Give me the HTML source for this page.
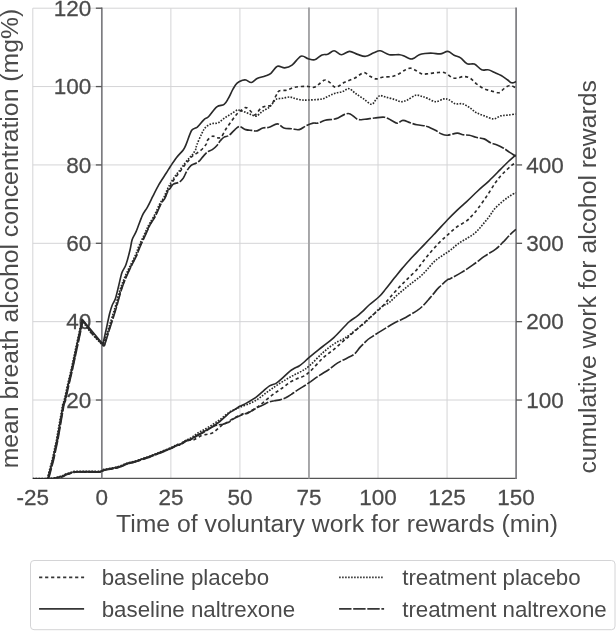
<!DOCTYPE html>
<html><head><meta charset="utf-8"><title>chart</title>
<style>
html,body{margin:0;padding:0;background:#fff}
svg{display:block;will-change:transform}
text{font-family:"Liberation Sans",Arial,Helvetica,sans-serif;fill:#4a4a4a}
.tk{font-size:22.5px;stroke:#4a4a4a;stroke-width:0.25px}
.lb{font-size:24.75px}
.lg{font-size:22.3px}
</style></head><body>
<svg width="616" height="631" viewBox="0 0 616 631">
<rect width="616" height="631" fill="#fff"/>

<g stroke="#d4d4d6" stroke-width="1" fill="none">
<line x1="170.89" y1="8.2" x2="170.89" y2="478.4"/>
<line x1="239.93" y1="8.2" x2="239.93" y2="478.4"/>
<line x1="378.01" y1="8.2" x2="378.01" y2="478.4"/>
<line x1="447.06" y1="8.2" x2="447.06" y2="478.4"/>
<line x1="32.8" y1="400.03" x2="516.1" y2="400.03"/>
<line x1="32.8" y1="321.67" x2="516.1" y2="321.67"/>
<line x1="32.8" y1="243.30" x2="516.1" y2="243.30"/>
<line x1="32.8" y1="164.93" x2="516.1" y2="164.93"/>
<line x1="32.8" y1="86.57" x2="516.1" y2="86.57"/>
<line x1="32.8" y1="8.2" x2="32.8" y2="478.4"/>
<line x1="32.8" y1="8.2" x2="516.1" y2="8.2"/>
</g>
<line x1="32.8" y1="478.4" x2="516.9" y2="478.4" stroke="#555" stroke-width="1.4"/>
<g stroke="#7c7c80" stroke-width="1.7" fill="none">
<line x1="516.1" y1="7.6" x2="516.1" y2="479.09999999999997"/>
<line x1="101.84" y1="7.6" x2="101.84" y2="478.4"/>
<line x1="308.97" y1="7.6" x2="308.97" y2="478.4" stroke="#a4a4a6" stroke-width="1.9"/>
</g>
<g stroke="#555" stroke-width="1.3" fill="none">
<line x1="95.84" y1="400.03" x2="101.84" y2="400.03"/>
<line x1="95.84" y1="321.67" x2="101.84" y2="321.67"/>
<line x1="95.84" y1="243.30" x2="101.84" y2="243.30"/>
<line x1="95.84" y1="164.93" x2="101.84" y2="164.93"/>
<line x1="95.84" y1="86.57" x2="101.84" y2="86.57"/>
<line x1="95.84" y1="8.20" x2="101.84" y2="8.20"/>
<line x1="516.1" y1="400.03" x2="522.1" y2="400.03"/>
<line x1="516.1" y1="321.67" x2="522.1" y2="321.67"/>
<line x1="516.1" y1="243.30" x2="522.1" y2="243.30"/>
<line x1="516.1" y1="164.93" x2="522.1" y2="164.93"/>
</g>
<text class="tk" transform="translate(91.34,407.73) scale(1,1.02)" text-anchor="end">20</text>
<text class="tk" transform="translate(91.34,329.37) scale(1,1.02)" text-anchor="end">40</text>
<text class="tk" transform="translate(91.34,251.00) scale(1,1.02)" text-anchor="end">60</text>
<text class="tk" transform="translate(91.34,172.63) scale(1,1.02)" text-anchor="end">80</text>
<text class="tk" transform="translate(91.34,94.27) scale(1,1.02)" text-anchor="end">100</text>
<text class="tk" transform="translate(91.34,15.90) scale(1,1.02)" text-anchor="end">120</text>
<text class="tk" transform="translate(526.30,407.83) scale(1,1.02)" text-anchor="start">100</text>
<text class="tk" transform="translate(526.30,329.47) scale(1,1.02)" text-anchor="start">200</text>
<text class="tk" transform="translate(526.30,251.10) scale(1,1.02)" text-anchor="start">300</text>
<text class="tk" transform="translate(526.30,172.73) scale(1,1.02)" text-anchor="start">400</text>
<text class="tk" transform="translate(32.80,504.70) scale(1,1.02)" text-anchor="middle">-25</text>
<text class="tk" transform="translate(101.84,504.70) scale(1,1.02)" text-anchor="middle">0</text>
<text class="tk" transform="translate(170.89,504.70) scale(1,1.02)" text-anchor="middle">25</text>
<text class="tk" transform="translate(239.93,504.70) scale(1,1.02)" text-anchor="middle">50</text>
<text class="tk" transform="translate(308.97,504.70) scale(1,1.02)" text-anchor="middle">75</text>
<text class="tk" transform="translate(378.01,504.70) scale(1,1.02)" text-anchor="middle">100</text>
<text class="tk" transform="translate(447.06,504.70) scale(1,1.02)" text-anchor="middle">125</text>
<text class="tk" transform="translate(516.10,504.70) scale(1,1.02)" text-anchor="middle">150</text>
<text class="lb" x="337.0" y="531.8" text-anchor="middle">Time of voluntary work for rewards (min)</text>
<text class="lb" transform="translate(18.2,238.6) rotate(-90)" text-anchor="middle">mean breath alcohol concentration (mg%)</text>
<text class="lb" transform="translate(595.8,276.9) rotate(-90)" text-anchor="middle">cumulative work for alcohol rewards</text>
<clipPath id="ax"><rect x="32.8" y="8.2" width="483.30" height="470.20"/></clipPath>
<g stroke="#2a2a2a" stroke-width="1.65" fill="none" stroke-linejoin="round" clip-path="url(#ax)">
<path d="M32.6,478.9L47.7,478.9L52.7,460.0L57.0,440.0L63.3,404.1L64.6,401.0L68.1,384.8L71.6,370.0L82.3,319.4L92.3,331.6L102.9,344.2C103.5,341.5 105.4,333.0 106.5,327.9C107.6,322.8 108.8,317.1 109.7,313.3C110.7,309.5 111.2,307.6 112.2,305.2C113.2,302.8 114.3,301.9 115.4,298.7C116.5,295.4 117.6,290.0 118.7,285.7C119.8,281.4 120.7,276.2 121.9,272.7C123.1,269.2 124.7,268.4 126.0,264.6C127.3,260.8 129.0,254.2 130.0,250.0C131.0,245.8 131.2,242.6 132.2,239.5C133.2,236.4 134.5,235.4 136.2,231.4C137.9,227.4 140.5,219.6 142.3,215.6C144.2,211.6 145.5,210.6 147.3,207.4C149.1,204.2 151.0,200.0 152.9,196.2C154.8,192.4 156.8,188.3 159.0,184.4C161.2,180.5 164.4,176.0 166.3,173.0C168.2,170.0 168.8,168.9 170.5,166.3C172.2,163.7 174.4,160.3 176.6,157.5C178.8,154.7 181.8,152.0 183.4,149.7C185.0,147.4 184.9,147.1 186.3,143.9C187.7,140.7 189.9,133.1 191.7,130.3C193.5,127.5 195.3,128.8 197.3,127.1C199.3,125.3 201.9,121.6 203.8,119.8C205.7,118.0 206.5,118.7 208.7,116.5C210.9,114.3 214.2,108.8 216.8,106.8C219.4,104.8 222.2,105.8 224.1,104.4C226.0,103.1 226.7,101.3 228.2,98.7C229.7,96.1 231.6,91.5 233.1,88.9C234.6,86.3 235.5,84.6 237.1,83.2C238.7,81.8 241.0,80.8 242.5,80.3C244.0,79.8 244.5,79.6 246.0,80.0C247.5,80.4 249.6,82.7 251.4,82.5C253.2,82.3 254.8,79.7 257.1,78.6C259.4,77.5 262.9,76.9 265.2,76.0C267.5,75.1 268.9,74.9 270.9,73.3C272.9,71.7 275.1,67.2 277.4,66.3C279.7,65.4 282.3,68.1 284.7,67.9C287.1,67.7 289.3,67.2 292.0,65.2C294.7,63.2 298.2,57.3 300.9,56.2C303.6,55.1 305.9,58.1 308.2,58.7C310.5,59.3 312.4,60.4 314.7,59.8C317.0,59.2 319.8,55.8 322.0,54.9C324.2,54.0 325.7,55.0 327.7,54.3C329.7,53.6 331.8,50.7 334.1,50.8C336.4,50.9 338.8,54.6 341.4,54.7C344.0,54.8 346.8,51.5 349.5,51.4C352.2,51.3 354.9,53.6 357.6,54.4C360.3,55.2 363.0,56.6 365.7,56.3C368.4,56.0 371.4,53.6 373.8,52.7C376.2,51.8 377.7,50.5 380.3,50.8C382.9,51.1 386.1,54.1 389.3,54.7C392.6,55.4 397.2,54.4 399.8,54.7C402.4,55.0 402.9,55.6 404.7,56.3C406.5,57.0 408.8,58.6 410.4,58.9C412.0,59.2 412.9,58.6 414.4,57.9C415.9,57.2 417.6,55.4 419.3,54.7C421.1,54.0 422.6,53.8 424.9,53.5C427.2,53.2 430.4,53.1 433.0,53.2C435.6,53.3 437.8,54.2 440.3,53.9C442.8,53.6 445.6,51.2 447.9,51.4C450.2,51.6 452.0,54.1 454.1,55.2C456.2,56.3 458.4,56.5 460.6,57.9C462.8,59.3 464.8,62.8 467.1,63.8C469.4,64.8 472.0,63.1 474.4,64.1C476.8,65.1 479.4,68.8 481.7,69.8C484.0,70.8 486.0,69.3 488.2,69.8C490.4,70.2 492.5,71.5 494.7,72.5C496.9,73.5 499.0,74.2 501.2,75.5C503.4,76.8 505.9,78.8 507.7,80.0C509.4,81.2 510.3,82.5 511.7,82.8C513.1,83.1 515.4,81.8 516.1,81.6" />
<path d="M33.0,479.0L48.1,479.0L53.1,460.1L57.4,440.1L63.7,404.2L65.0,401.1L68.5,384.9L72.0,370.1L82.7,320.3L91.8,333.3L104.0,345.9C104.8,343.5 107.1,335.9 108.5,331.3C109.9,326.7 111.2,322.7 112.6,318.3C114.0,314.0 115.3,309.9 116.6,305.3C118.0,300.8 119.3,295.1 120.7,290.8C122.1,286.4 123.3,283.1 124.8,279.3C126.4,275.6 128.1,272.0 130.0,268.0C131.9,264.1 134.6,259.1 136.2,255.5C137.8,251.9 138.2,250.0 139.7,246.5C141.2,242.9 143.8,237.5 145.5,234.0C147.2,230.4 148.0,228.2 149.6,225.1C151.2,222.0 153.4,219.0 155.3,215.3C157.2,211.7 159.5,205.9 161.0,203.2C162.5,200.4 163.3,200.5 164.3,198.6C165.3,196.7 166.2,193.8 167.2,191.8C168.2,189.7 169.0,188.4 170.1,186.3C171.2,184.3 172.4,181.9 174.0,179.5C175.6,177.0 177.9,174.3 179.9,171.8C181.9,169.2 183.9,166.2 185.7,164.0C187.5,161.7 189.3,159.5 190.6,158.1C191.9,156.6 192.4,156.0 193.5,155.2C194.6,154.3 195.9,153.9 197.4,152.8C198.9,151.8 200.8,150.4 202.3,149.0C203.8,147.5 205.3,145.5 206.2,144.1C207.1,142.6 206.5,141.6 207.5,140.2C208.5,138.9 210.8,136.6 212.4,136.2C214.0,135.7 215.7,137.6 217.2,137.8C218.7,137.9 219.8,138.4 221.3,137.0C222.8,135.5 224.3,131.6 226.1,128.8C227.8,126.1 230.0,123.2 231.8,120.8C233.6,118.3 235.1,116.0 236.7,114.2C238.3,112.5 239.7,111.4 241.3,110.2C242.9,109.1 244.5,107.3 246.1,107.6C247.7,107.8 249.5,110.3 251.0,111.6C252.5,112.8 253.5,115.4 255.1,114.9C256.7,114.3 258.9,109.9 260.8,108.4C262.7,106.9 264.6,106.4 266.4,105.9C268.1,105.3 269.7,106.8 271.3,105.1C272.9,103.3 274.8,97.7 276.2,95.4C277.6,93.0 277.6,91.6 279.4,90.8C281.1,89.9 284.4,90.7 286.7,90.2C289.0,89.6 290.8,88.2 293.2,87.6C295.6,86.9 298.7,86.6 301.3,86.5C303.9,86.3 306.4,86.3 308.6,86.5C310.8,86.6 312.5,87.7 314.3,87.2C316.1,86.8 317.4,85.2 319.2,84.0C321.0,82.7 323.1,80.2 324.9,80.0C326.6,79.7 328.2,81.3 329.7,82.4C331.2,83.4 332.5,85.7 333.8,86.5C335.1,87.2 335.8,87.4 337.7,86.7C339.6,85.9 342.1,83.5 345.0,82.1C347.9,80.6 351.7,79.6 354.8,78.1C357.9,76.5 361.3,73.0 363.7,72.7C366.1,72.3 367.4,74.9 369.4,76.0C371.4,77.0 373.8,78.6 375.9,78.9C378.0,79.1 379.6,77.7 382.3,77.2C385.0,76.8 389.4,77.0 392.1,76.5C394.8,75.9 396.4,75.0 398.6,74.0C400.8,72.9 403.1,70.9 405.1,70.0C407.1,69.0 408.9,68.1 410.8,68.2C412.7,68.4 414.5,69.8 416.4,70.8C418.3,71.7 420.1,73.5 422.1,74.0C424.1,74.4 426.1,73.9 428.5,73.7C430.9,73.4 433.9,72.8 436.6,72.7C439.3,72.5 442.2,71.8 444.8,72.7C447.4,73.5 449.9,76.7 452.1,77.6C454.2,78.5 455.8,78.2 457.7,78.1C459.6,77.9 461.4,76.5 463.4,76.5C465.4,76.5 467.7,76.8 469.9,78.1C472.1,79.3 474.1,82.0 476.4,83.8C478.7,85.5 481.1,87.3 483.7,88.6C486.3,89.8 489.2,90.4 491.8,91.1C494.4,91.7 497.1,93.1 499.1,92.7C501.1,92.2 502.4,89.7 504.0,88.6C505.6,87.4 507.4,86.1 508.9,85.7C510.4,85.2 511.6,85.7 512.9,86.2C514.2,86.6 515.9,88.2 516.5,88.6" stroke-dasharray="3.2 2.8"/>
<path d="M32.1,478.8L47.2,478.8L52.2,459.9L56.5,439.9L62.8,404.0L64.1,400.9L67.6,384.7L71.1,369.9L81.8,320.1L91.0,333.1L103.1,345.7C103.9,343.3 106.2,335.7 107.6,331.1C109.1,326.5 110.4,322.4 111.8,318.1C113.1,313.8 114.4,309.7 115.8,305.1C117.1,300.5 118.5,294.8 119.8,290.5C121.2,286.2 122.4,282.9 124.0,279.1C125.5,275.3 127.2,271.8 129.2,267.8C131.1,263.8 133.7,258.8 135.4,255.2C137.0,251.6 137.3,249.8 138.9,246.2C140.4,242.6 143.0,237.3 144.7,233.7C146.3,230.1 147.1,227.9 148.8,224.8C150.4,221.7 152.6,218.8 154.5,215.1C156.4,211.4 158.7,205.7 160.2,202.9C161.7,200.1 162.4,200.2 163.5,198.3C164.5,196.4 165.4,193.6 166.4,191.5C167.3,189.4 168.1,187.8 169.2,185.7C170.4,183.6 171.5,181.2 173.2,178.8C174.8,176.4 177.1,173.7 179.1,171.1C181.0,168.5 183.1,165.6 184.9,163.3C186.6,161.0 188.4,158.9 189.8,157.4C191.1,155.9 191.7,155.5 192.7,154.2C193.6,152.9 194.9,151.2 195.6,149.6C196.2,148.0 195.8,147.5 196.9,144.8C197.9,142.1 200.2,136.5 201.8,133.5C203.2,130.5 204.2,128.6 205.9,127.0C207.5,125.4 209.5,124.4 211.6,123.7C213.6,123.0 215.8,123.9 218.0,122.9C220.1,122.0 222.3,119.5 224.5,118.0C226.6,116.5 228.8,115.3 231.0,114.0C233.1,112.7 236.0,110.5 237.5,109.9C238.9,109.3 238.4,110.1 239.7,110.5C240.9,110.9 243.2,111.4 245.2,112.1C247.3,112.8 249.8,114.3 251.8,114.9C253.7,115.5 254.9,116.5 256.7,115.9C258.4,115.3 260.5,112.6 262.4,111.3C264.2,110.0 266.4,109.3 268.1,108.1C269.7,106.9 270.7,105.5 272.1,104.0C273.4,102.5 274.4,100.2 276.2,99.2C277.9,98.2 280.4,98.7 282.7,98.3C285.0,97.9 287.8,96.9 289.9,97.0C292.1,97.1 293.6,98.2 295.7,98.7C297.7,99.2 300.0,99.8 302.2,100.0C304.3,100.2 306.2,100.1 308.7,100.0C311.1,99.9 314.3,99.8 316.8,99.6C319.2,99.4 321.2,99.3 323.2,98.7C325.3,98.1 326.9,96.8 328.9,95.9C330.9,95.0 333.0,93.9 335.2,93.2C337.5,92.5 340.2,92.4 342.6,91.6C344.9,90.9 346.9,88.4 349.1,88.7C351.2,89.0 353.1,91.8 355.6,93.5C358.0,95.2 361.0,97.1 363.7,98.9C366.3,100.7 369.4,104.2 371.4,104.3C373.5,104.4 374.5,101.2 375.9,99.7C377.2,98.2 378.1,96.0 379.9,95.6C381.6,95.2 383.9,96.7 386.4,97.3C388.8,97.9 392.0,98.7 394.4,99.4C396.9,100.1 398.8,101.6 400.9,101.7C403.1,101.8 405.0,101.1 407.4,100.0C409.9,98.9 413.1,95.8 415.6,95.2C418.0,94.6 420.0,96.0 422.1,96.5C424.1,97.0 425.4,97.5 427.7,98.4C429.9,99.3 433.0,101.6 435.8,101.7C438.5,101.8 441.8,99.2 443.9,98.9C446.1,98.6 446.9,98.9 448.8,99.7C450.6,100.5 452.9,103.1 455.2,103.8C457.6,104.5 460.1,103.1 462.6,103.8C465.0,104.5 467.6,106.3 469.9,107.8C472.2,109.3 473.9,111.4 476.4,112.7C478.8,114.0 481.6,114.9 484.4,115.9C487.3,116.9 490.7,118.9 493.4,118.9C496.2,118.9 498.3,116.5 500.8,115.9C503.2,115.3 505.6,115.4 508.1,115.1C510.5,114.8 514.4,114.2 515.6,114.0" stroke-dasharray="1.6 1.4"/>
<path d="M33.4,479.2L48.5,479.2L53.5,460.3L57.8,440.3L64.0,404.4L65.3,401.3L68.8,385.1L72.3,370.3L83.0,320.5L92.2,333.5L104.3,346.1C105.1,343.7 107.4,336.1 108.8,331.5C110.3,326.9 111.6,322.8 113.0,318.5C114.3,314.2 115.6,310.1 117.0,305.5C118.3,300.9 119.7,295.2 121.0,290.9C122.4,286.6 123.6,283.3 125.2,279.5C126.7,275.7 128.4,272.2 130.3,268.2C132.2,264.2 134.9,259.2 136.6,255.6C138.2,252.0 138.5,250.2 140.1,246.6C141.6,243.0 144.2,237.7 145.8,234.1C147.5,230.5 148.3,228.3 149.9,225.2C151.6,222.1 153.8,219.2 155.7,215.5C157.6,211.8 159.8,206.1 161.3,203.3C162.8,200.5 163.6,200.6 164.7,198.7C165.7,196.8 166.6,193.7 167.6,191.9C168.5,190.1 169.5,189.3 170.4,188.0C171.4,186.7 172.0,185.1 173.4,184.1C174.9,183.1 177.6,183.2 179.2,182.2C180.9,181.2 181.8,180.2 183.2,178.3C184.5,176.4 185.8,172.6 187.1,170.5C188.4,168.4 189.5,166.8 190.9,165.6C192.4,164.4 194.4,164.0 195.8,163.2C197.3,162.4 198.4,161.9 199.7,160.7C200.9,159.5 202.2,157.4 203.6,155.9C204.9,154.4 206.0,153.1 207.4,152.0C208.9,150.9 210.7,150.7 212.3,149.6C214.0,148.5 215.9,146.7 217.2,145.2C218.6,143.7 219.1,142.2 220.2,140.8C221.4,139.5 222.6,138.0 224.1,137.1C225.5,136.2 227.2,136.7 228.9,135.5C230.7,134.3 232.9,131.3 234.7,129.8C236.4,128.3 237.6,126.6 239.4,126.6C241.3,126.6 243.7,129.0 245.7,129.6C247.6,130.2 249.4,130.2 251.3,130.4C253.2,130.6 255.2,131.3 257.1,130.9C258.9,130.5 260.7,128.6 262.8,128.0C264.8,127.4 266.8,127.9 269.2,127.2C271.7,126.5 274.9,123.8 277.4,123.9C279.8,124.0 281.4,127.2 283.9,128.0C286.3,128.8 289.4,128.5 291.9,128.8C294.5,129.1 296.8,130.2 299.2,129.6C301.7,129.1 304.2,126.6 306.6,125.5C308.9,124.4 311.2,123.5 313.1,123.1C314.9,122.7 315.9,123.6 317.9,123.1C320.0,122.6 322.8,120.8 325.2,120.2C327.7,119.6 330.4,119.8 332.6,119.4C334.7,119.0 336.1,118.8 338.1,118.0C340.1,117.2 342.5,115.1 344.6,114.4C346.6,113.7 348.1,113.1 350.2,113.9C352.4,114.7 355.1,118.4 357.6,119.3C360.0,120.2 362.0,119.5 364.9,119.3C367.7,119.1 371.3,118.3 374.6,118.0C377.8,117.7 381.5,116.8 384.4,117.2C387.2,117.6 389.5,119.4 391.6,120.4C393.8,121.4 395.5,123.2 397.4,123.2C399.2,123.2 400.8,120.5 402.9,120.4C405.1,120.3 407.9,122.1 410.2,122.8C412.6,123.5 414.3,124.3 416.8,124.8C419.2,125.3 423.2,125.5 424.9,125.8C426.7,126.1 425.5,125.8 427.2,126.6C429.0,127.3 432.9,129.1 435.4,130.3C437.8,131.6 439.8,133.3 441.9,134.1C443.9,134.9 445.0,135.4 447.6,135.2C450.1,135.0 454.7,133.2 457.2,133.1C459.8,133.0 460.9,134.4 462.9,134.7C465.0,135.1 467.3,134.8 469.4,135.2C471.6,135.6 473.5,136.7 475.9,137.3C478.4,137.9 481.6,138.0 484.1,138.9C486.5,139.8 488.4,141.8 490.6,142.8C492.7,143.8 494.9,144.0 497.1,144.9C499.2,145.8 501.4,146.9 503.6,148.2C505.7,149.5 507.9,151.2 510.1,152.6C512.2,154.0 515.5,156.1 516.5,156.8" stroke-dasharray="12.4 1.7"/>
<path d="M32.6,479.0L47.9,478.9C49.0,478.8 52.6,478.5 54.5,478.2C56.4,477.9 57.8,477.4 59.2,477.0C60.6,476.6 61.9,476.4 63.0,476.0C64.1,475.6 64.7,474.8 65.7,474.4C66.7,474.0 67.5,473.8 69.0,473.4C70.5,473.0 71.5,472.1 74.8,471.8C78.0,471.5 84.3,471.6 88.5,471.6C92.7,471.6 97.6,471.9 100.2,471.6C102.8,471.3 102.1,470.3 104.1,469.8C106.0,469.3 109.3,469.0 111.9,468.4C114.5,467.9 117.1,467.3 119.7,466.5C122.3,465.7 124.9,464.2 127.5,463.4C130.1,462.6 132.7,462.2 135.3,461.4C137.9,460.6 140.8,459.5 143.1,458.7C145.4,458.0 146.4,457.8 148.9,456.9C151.4,456.0 154.3,454.7 157.9,453.3C161.5,451.9 167.1,449.7 170.4,448.3C173.7,446.9 175.9,445.4 177.5,444.7C179.1,444.1 178.6,445.1 180.0,444.4C181.4,443.8 183.8,441.8 185.7,440.8C187.6,439.9 189.5,439.6 191.4,438.7C193.3,437.8 195.1,436.4 197.0,435.3C198.9,434.2 200.8,433.3 202.7,432.2C204.6,431.1 206.5,430.0 208.4,428.9C210.3,427.8 212.2,426.6 214.1,425.4C216.0,424.2 217.9,423.0 219.8,421.5C221.7,420.0 223.8,417.9 225.5,416.4C227.2,414.9 228.3,413.6 230.0,412.4C231.7,411.2 234.0,410.1 235.7,409.0C237.4,407.9 238.3,407.1 240.2,406.1C242.0,405.1 244.2,404.4 246.8,402.9C249.4,401.4 253.2,399.2 255.9,397.3C258.6,395.4 260.4,393.5 262.7,391.6C265.0,389.7 267.2,387.3 269.5,385.9C271.8,384.5 274.1,384.5 276.4,383.1C278.7,381.7 280.9,379.4 283.2,377.4C285.5,375.4 288.1,372.6 290.0,371.1C291.9,369.6 293.0,369.2 294.5,368.3C296.0,367.4 297.4,367.1 299.1,366.0C300.8,364.9 303.1,363.0 304.8,361.5C306.5,360.0 306.5,359.6 309.5,357.1C312.5,354.6 318.6,349.8 322.7,346.5C326.8,343.2 329.7,341.5 334.1,337.4C338.5,333.3 345.1,325.5 348.9,322.0C352.7,318.5 354.6,318.1 356.8,316.4C359.0,314.7 359.9,313.8 362.0,311.9C364.1,310.0 366.2,307.6 369.1,305.0C372.0,302.4 376.5,299.2 379.3,296.5C382.1,293.8 383.6,291.5 386.1,288.5C388.6,285.5 391.5,281.6 394.1,278.3C396.8,275.0 399.5,271.5 402.0,268.6C404.5,265.7 405.9,264.0 408.9,260.7C411.9,257.4 415.9,253.3 420.0,249.0C424.1,244.7 429.1,239.6 433.6,234.8C438.2,230.0 443.3,224.2 447.3,220.0C451.3,215.8 454.3,212.8 457.5,209.8C460.7,206.8 463.0,204.9 466.4,201.8C469.8,198.7 473.9,194.5 477.7,191.0C481.5,187.5 485.3,184.4 489.1,180.8C492.9,177.2 497.3,172.6 500.5,169.4C503.7,166.2 505.8,163.9 508.4,161.5C510.9,159.1 514.6,156.0 515.8,154.9" />
<path d="M32.7,479.3L48.0,479.2C49.1,479.1 52.7,478.9 54.6,478.6C56.5,478.2 57.9,477.7 59.3,477.3C60.7,477.0 62.0,476.8 63.1,476.3C64.2,475.9 64.8,475.2 65.8,474.8C66.8,474.3 67.6,474.2 69.1,473.8C70.6,473.3 71.6,472.4 74.9,472.1C78.1,471.8 84.4,472.0 88.6,471.9C92.8,471.9 97.7,472.2 100.3,471.9C102.9,471.6 102.2,470.7 104.2,470.1C106.1,469.6 109.4,469.3 112.0,468.8C114.6,468.2 117.2,467.7 119.8,466.8C122.4,466.0 125.0,464.6 127.6,463.8C130.2,462.9 132.8,462.5 135.4,461.8C138.0,461.0 140.9,459.8 143.2,459.1C145.5,458.3 146.5,458.1 149.0,457.2C151.5,456.4 154.4,455.1 158.0,453.6C161.6,452.2 167.2,450.1 170.5,448.6C173.8,447.2 176.0,445.7 177.6,445.1C179.2,444.4 178.7,445.4 180.1,444.8C181.5,444.1 183.9,442.0 185.8,441.1C187.7,440.3 190.0,440.2 191.5,439.8C193.0,439.5 193.2,440.0 194.9,439.2C196.6,438.5 199.6,436.3 201.7,435.4C203.8,434.6 205.5,434.8 207.4,434.3C209.3,433.9 211.2,433.7 213.1,432.6C215.0,431.6 217.2,429.3 218.7,428.1C220.2,426.8 220.6,426.3 222.1,425.2C223.6,424.2 225.9,423.0 227.8,421.8C229.7,420.7 231.6,419.5 233.5,418.4C235.4,417.4 237.5,416.4 239.2,415.6C240.9,414.8 242.4,414.1 243.7,413.6C245.0,413.2 245.8,413.6 247.1,413.1C248.4,412.6 249.8,411.6 251.5,410.6C253.2,409.7 255.2,408.6 257.1,407.2C259.0,405.9 260.7,404.4 262.8,402.8C264.9,401.1 267.3,398.9 269.6,397.1C271.9,395.2 274.2,393.6 276.5,391.9C278.8,390.3 281.0,389.0 283.3,387.3C285.6,385.7 287.8,383.7 290.1,382.2C292.4,380.8 294.6,379.9 296.9,378.8C299.2,377.8 301.5,377.3 303.7,376.1C305.9,374.8 306.9,374.4 310.1,371.4C313.3,368.5 318.8,361.9 322.8,358.1C326.8,354.4 330.8,351.9 334.2,349.1C337.6,346.2 340.8,343.3 343.3,341.1C345.8,339.0 346.2,338.8 349.0,336.3C351.8,333.9 357.1,329.0 360.1,326.3C363.1,323.7 365.0,322.0 366.9,320.3C368.8,318.6 369.0,318.4 371.5,316.1C374.0,313.9 378.7,310.1 381.7,307.1C384.7,304.0 386.8,301.2 389.6,297.9C392.4,294.7 395.7,291.0 398.7,287.8C401.7,284.5 404.8,281.7 407.8,278.6C410.8,275.6 414.6,272.1 416.9,269.6C419.2,267.0 419.6,266.1 421.6,263.4C423.7,260.8 426.4,257.1 429.2,253.8C432.0,250.5 435.3,246.8 438.3,243.6C441.3,240.5 444.4,237.9 447.4,235.1C450.4,232.4 453.3,229.5 456.5,227.1C459.7,224.8 464.0,222.9 466.6,220.9C469.2,219.0 470.4,217.4 472.4,215.2C474.4,213.1 476.1,211.1 478.5,207.8C480.9,204.6 484.2,200.0 486.9,195.9C489.6,191.9 492.6,186.8 494.9,183.4C497.2,180.1 498.7,178.2 500.6,176.0C502.5,173.9 504.3,172.1 506.2,170.3C508.1,168.6 510.3,166.5 511.9,165.2C513.5,164.0 515.2,163.1 515.9,162.6" stroke-dasharray="3.2 2.8"/>
<path d="M32.5,478.6L47.8,478.6C48.9,478.4 52.5,478.2 54.4,477.9C56.3,477.5 57.7,477.0 59.1,476.6C60.5,476.3 61.8,476.1 62.9,475.6C64.0,475.2 64.6,474.5 65.6,474.1C66.6,473.6 67.4,473.5 68.9,473.1C70.4,472.6 71.5,471.8 74.7,471.4C78.0,471.1 84.2,471.3 88.4,471.2C92.6,471.2 97.5,471.6 100.1,471.2C102.7,470.9 102.0,470.0 104.0,469.4C106.0,468.9 109.2,468.6 111.8,468.1C114.4,467.5 117.0,467.0 119.6,466.1C122.2,465.3 124.8,463.9 127.4,463.1C130.0,462.2 132.6,461.8 135.2,461.1C137.8,460.3 140.7,459.1 143.0,458.4C145.3,457.6 146.3,457.5 148.8,456.6C151.3,455.6 154.2,454.4 157.8,452.9C161.4,451.5 167.0,449.4 170.3,447.9C173.6,446.5 175.8,445.0 177.4,444.4C179.0,443.7 178.5,444.7 179.9,444.1C181.3,443.4 183.7,441.5 185.6,440.4C187.5,439.4 189.4,438.9 191.3,437.8C193.2,436.6 195.0,434.8 196.9,433.6C198.8,432.3 200.7,431.5 202.6,430.4C204.5,429.4 206.4,428.3 208.3,427.1C210.2,426.0 212.1,424.9 214.0,423.6C215.9,422.4 217.8,421.1 219.7,419.8C221.6,418.4 223.7,416.6 225.4,415.2C227.1,413.9 228.2,412.8 229.9,411.8C231.6,410.7 233.9,409.7 235.6,408.9C237.3,408.2 237.7,408.0 239.9,407.1C242.1,406.3 246.2,405.0 249.0,403.8C251.8,402.5 254.4,401.3 256.9,399.8C259.4,398.2 261.5,396.3 263.8,394.6C266.1,392.9 268.3,391.2 270.6,389.6C272.9,387.9 274.9,386.6 277.4,384.9C279.9,383.3 282.8,381.5 285.4,379.9C288.0,378.2 290.6,376.8 293.3,375.4C295.9,373.9 298.6,372.9 301.3,371.4C304.0,369.8 305.8,369.0 309.4,365.9C312.9,362.9 318.5,356.6 322.6,352.9C326.7,349.3 330.6,346.2 334.0,343.9C337.4,341.5 340.6,340.5 343.1,339.1C345.6,337.6 346.5,337.0 348.8,335.4C351.1,333.7 354.2,331.0 356.7,329.1C359.1,327.1 361.1,326.0 363.5,323.9C365.9,321.9 367.9,319.6 370.9,316.8C373.9,313.9 378.4,309.3 381.5,306.9C384.6,304.6 386.8,304.4 389.4,302.4C392.0,300.4 394.7,297.3 397.4,294.9C400.1,292.6 402.8,290.3 405.4,288.1C408.0,286.0 410.6,284.0 413.3,281.9C415.9,279.9 418.9,277.8 421.3,275.6C423.6,273.5 425.2,271.7 427.4,269.2C429.6,266.8 432.2,263.4 434.7,261.1C437.2,258.8 440.0,257.3 442.6,255.4C445.2,253.6 447.7,252.2 450.4,250.2C453.1,248.1 455.8,245.4 458.7,243.3C461.6,241.3 465.0,239.7 467.9,237.8C470.8,236.0 473.4,234.5 475.9,232.2C478.4,230.0 480.4,227.2 482.7,224.6C484.9,221.9 487.4,219.0 489.4,216.3C491.4,213.7 492.5,211.3 494.7,208.8C496.9,206.4 500.1,203.5 502.6,201.4C505.0,199.4 507.2,197.8 509.4,196.3C511.6,194.9 514.6,193.2 515.7,192.6" stroke-dasharray="1.6 1.4"/>
<path d="M32.8,479.4L48.1,479.4C49.2,479.2 52.8,479.0 54.7,478.7C56.6,478.3 58.0,477.8 59.4,477.4C60.8,477.1 62.1,476.9 63.2,476.4C64.3,476.0 64.9,475.3 65.9,474.9C66.9,474.4 67.7,474.3 69.2,473.9C70.7,473.4 71.8,472.6 75.0,472.2C78.2,471.9 84.5,472.1 88.7,472.1C92.9,472.0 97.8,472.4 100.4,472.1C103.0,471.8 102.3,470.8 104.3,470.2C106.2,469.7 109.5,469.4 112.1,468.9C114.7,468.3 117.3,467.8 119.9,466.9C122.5,466.1 125.1,464.7 127.7,463.9C130.3,463.0 132.9,462.6 135.5,461.9C138.1,461.1 141.0,459.9 143.3,459.2C145.6,458.4 146.6,458.2 149.1,457.4C151.6,456.5 154.5,455.2 158.1,453.8C161.7,452.3 167.3,450.2 170.6,448.8C173.9,447.3 176.1,445.8 177.7,445.2C179.3,444.5 178.8,445.5 180.2,444.9C181.6,444.2 184.0,442.2 185.9,441.2C187.8,440.3 189.7,440.1 191.6,439.2C193.5,438.2 195.3,436.8 197.2,435.8C199.1,434.7 201.0,433.7 202.9,432.7C204.8,431.6 206.7,430.5 208.6,429.4C210.5,428.2 212.8,426.6 214.3,425.9C215.8,425.1 216.4,425.2 217.8,424.9C219.2,424.7 220.9,424.6 222.7,424.2C224.5,423.7 226.6,423.4 228.4,422.4C230.2,421.5 231.8,419.9 233.6,418.8C235.4,417.6 237.6,416.7 239.3,415.9C241.0,415.1 242.5,414.4 243.8,413.9C245.1,413.5 245.9,413.9 247.2,413.4C248.5,412.9 249.9,411.9 251.6,410.9C253.3,410.0 255.3,408.5 257.2,407.6C259.1,406.6 261.0,405.9 262.9,405.1C264.8,404.2 266.7,403.0 268.6,402.2C270.5,401.5 272.4,401.1 274.3,400.8C276.2,400.4 278.1,400.4 280.0,399.9C281.9,399.4 283.8,398.7 285.7,397.8C287.6,396.8 289.4,395.6 291.3,394.4C293.2,393.1 295.1,391.6 297.0,390.4C298.9,389.1 300.4,388.4 302.7,386.9C305.0,385.5 307.9,383.5 310.7,381.6C313.5,379.6 316.5,377.3 319.5,375.4C322.5,373.4 325.6,371.7 328.6,369.7C331.6,367.6 334.1,365.0 337.7,362.9C341.3,360.7 347.4,358.1 350.2,356.6C353.0,355.0 353.0,355.4 354.7,353.8C356.4,352.1 358.5,349.0 360.4,346.9C362.3,344.9 364.5,342.8 366.1,341.2C367.7,339.7 367.4,339.8 370.2,337.9C373.0,336.0 378.9,332.3 382.9,329.9C386.9,327.4 390.5,325.1 394.3,323.1C398.1,321.0 401.9,319.4 405.7,317.4C409.5,315.3 414.2,312.4 417.0,310.6C419.8,308.7 420.8,307.9 422.7,306.1C424.6,304.2 426.6,301.8 428.4,299.8C430.1,297.8 431.4,296.1 433.2,294.1C435.0,292.0 436.8,289.5 439.2,287.2C441.6,284.8 445.5,281.3 447.3,279.9C449.1,278.4 447.8,279.9 450.2,278.7C452.6,277.4 457.8,274.6 461.6,272.4C465.4,270.1 469.1,267.6 472.9,264.9C476.7,262.3 480.5,259.1 484.3,256.4C488.1,253.8 492.5,251.5 495.7,249.1C498.9,246.6 501.1,244.1 503.6,241.7C506.0,239.2 508.3,236.4 510.4,234.4C512.5,232.3 515.1,230.2 516.0,229.4" stroke-dasharray="12.4 1.7"/>
</g>
<rect x="30.5" y="560.5" width="584.5" height="69.2" rx="3.5" ry="3.5" fill="#fff" stroke="#d4d4d6" stroke-width="1"/>
<g stroke="#363636" stroke-width="1.85" fill="none">
<line x1="39.1" y1="577.4" x2="84.1" y2="577.4" stroke-dasharray="3.2 2.8"/>
<line x1="39.1" y1="608.8" x2="84.1" y2="608.8"/>
<line x1="339.1" y1="577.4" x2="384.1" y2="577.4" stroke-dasharray="1.6 1.4"/>
<line x1="339.1" y1="608.8" x2="384.1" y2="608.8" stroke-dasharray="12.4 1.7"/>
</g>
<text class="lg" x="101.7" y="584.8">baseline placebo</text>
<text class="lg" x="101.7" y="616.9">baseline naltrexone</text>
<text class="lg" x="402.2" y="584.8">treatment placebo</text>
<text class="lg" x="402.2" y="616.9">treatment naltrexone</text>
</svg></body></html>
